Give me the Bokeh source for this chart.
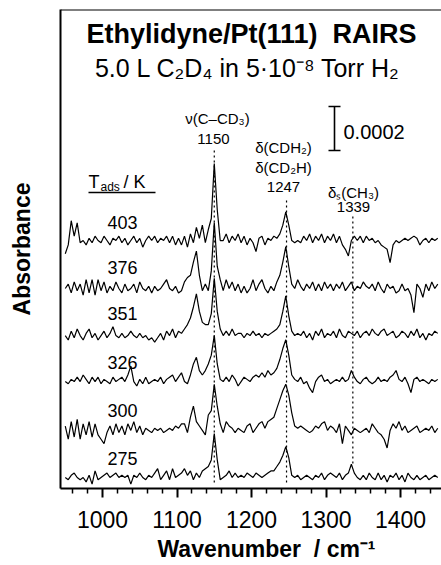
import numpy as np
from bokeh.plotting import figure
from bokeh.models import Range1d, Label, Span, FixedTicker, Title
from bokeh.embed import file_html
from bokeh.resources import INLINE

FONT = "Liberation Sans"

# ---------------- data ----------------
wn_start, wn_step = 950, 4          # wavenumber grid of the spectra (cm-1)
temperatures = ["403", "376", "351", "326", "300", "275"]
# vertical offsets of the stacked spectra (absorbance)
offsets = [0.001127, 0.000909, 0.000695, 0.000486, 0.000264, 0.000050]
# spectra, in units of 1e-5 absorbance, 950..1450 cm-1 every 4 cm-1
abs_403 = [
    -6, -2, 9, 2, 8, -1, 0, -2, 1, -1,
    2, 0, -1, 2, 0, -2, 1, 0, 2, -1,
    1, -2, 0, 2, -1, 1, -3, 0, 2, 0,
    2, -1, 1, 0, 2, -1, 2, -2, 1, -2,
    2, -3, 3, -1, 6, 1, 7, -1, 5, 10,
    35, 14, 0, 0, 3, -1, 2, 0, 3, -1,
    2, -2, 1, -1, -5, 1, 2, -2, 1, 0,
    2, 1, 3, 7, 13, 7, 0, -1, 0, -1,
    2, 0, 3, -1, 2, 0, 3, -1, 2, 0,
    3, -1, 2, -2, -4, -7, 0, 2, 0, 2,
    -1, 2, 0, 1, -1, 0, -2, -3, -4, -10,
    -2, 0, -1, 0, 1, 0, 1, 2, 1, -2,
    0, 1, -1, 1, 0, 1]
abs_376 = [
    0, 2, -2, 3, -1, 2, -3, 4, -2, 4,
    -3, 4, -1, 3, -2, 1, -1, 3, 0, -2,
    2, -1, 0, 2, -2, 3, 0, -1, 1, -2,
    1, -1, 0, 2, 4, 0, -1, 1, -2, -1,
    3, 5, 6, 12, 17, 6, -1, 2, -1, 8,
    30, 10, 4, -1, 4, 0, 3, -1, 2, -2,
    1, -2, 0, 4, -1, 2, 4, 0, -2, 1,
    -1, 3, 6, 12, 19, 10, 2, 0, 4, 1,
    -1, 2, 0, 3, -1, 2, -1, 3, 0, 2,
    -1, 2, 0, 3, -1, 1, 3, -1, 1, 0,
    3, 1, 0, 2, -1, 3, 0, -2, 2, 0,
    1, -2, -1, 2, -1, 0, -3, -11, 2, 0,
    -4, 2, -1, 3, 0, 2]
abs_351 = [
    0, -2, 2, -1, 3, 0, -2, 1, 3, -1,
    1, -2, 0, 2, -1, 1, 4, 0, -1, 1,
    -1, 0, 2, 0, -1, 1, -1, 0, -2, -1,
    -3, -1, 1, -2, 2, 0, 3, -1, 2, 1,
    3, 5, 8, 13, 19, 11, 6, 5, 5, 10,
    26, 11, 3, 0, 2, 0, 3, 0, 1, 1,
    -1, 1, 0, 2, 0, 1, -1, 1, 0, 1,
    2, 3, 5, 11, 18, 9, 2, 0, 1, 0,
    2, -1, 1, -2, 2, 0, 3, -1, 1, 0,
    2, -1, 3, 0, -1, 2, 1, 0, 2, -1,
    1, 2, 0, 3, 1, 0, 2, 3, 0, 1,
    2, -1, 0, 2, 1, -1, 2, 0, 3, -1,
    1, -2, 1, 0, 2, 1]
abs_326 = [
    0, -1, 1, 0, 2, 0, 3, 1, -1, 2,
    0, 2, -1, 1, 0, -1, 2, 0, 1, 2,
    0, 3, 7, 0, -2, 1, -1, 2, -1, 0,
    1, 0, 2, -1, 1, 2, 3, 0, 2, 4,
    0, -1, 3, 8, 11, 5, 3, 5, 8, 12,
    21, 8, 1, 0, 2, 0, 3, 1, -2, 0,
    2, 1, 0, 2, 3, 2, 4, 2, 5, 3,
    4, 6, 10, 15, 19, 12, 3, 1, 0, 2,
    -1, 0, -3, -5, 0, 2, 3, 0, 1, -1,
    0, 1, 0, 2, 0, 1, 5, 2, 0, -1,
    1, 2, 0, -1, 0, 2, 0, 1, 0, 2,
    3, 5, 1, 0, 2, -1, -5, 1, 2, 0,
    1, 0, -1, 1, 0, 1]
abs_300 = [
    2, -4, 4, -3, 5, -4, 3, -2, 4, -3,
    3, -2, -4, -6, -1, 2, -2, 3, -1, 2,
    -2, 3, 0, 4, -1, 2, -2, 1, 0, -1,
    1, 0, 1, -1, 0, 1, 0, 2, 1, 3,
    3, -1, 6, 11, 4, 2, 0, -2, 7, 9,
    21, 11, 3, -1, 4, 2, 1, -1, 1, 0,
    -1, 2, 3, -1, 1, 3, 4, 1, 4, 5,
    6, 10, 14, 18, 21, 16, 8, 2, 1, 2,
    1, 0, -1, 0, 2, 1, 3, 4, 0, 2,
    1, -1, 3, -6, 2, 0, -2, 1, 0, -1,
    0, 1, -1, 3, 1, -1, -2, -4, -8, 0,
    3, 1, 4, 0, 2, -1, 0, 1, 2, -1,
    0, 1, 0, 2, -1, 1]
abs_275 = [
    0, -1, 1, 2, 0, -1, 0, -2, 1, -3,
    3, -1, 0, 1, 2, 0, 1, 2, 0, 1,
    0, 1, -3, 1, 0, 2, 0, -1, 1, 0,
    2, 4, -1, 1, 3, -1, 4, 0, 1, 2,
    4, 1, 3, -1, 2, 0, 3, 4, 5, 8,
    20, 8, -1, 0, 1, 3, 0, 2, 0, 1,
    0, 2, 1, 0, 2, 1, 0, 1, 2, 3,
    3, 5, 7, 10, 14, 9, 1, 0, 1, -1,
    0, 1, 0, -1, 1, 0, 2, -1, 1, 2,
    1, 0, 2, -1, 1, 2, 6, 2, 0, -1,
    1, -1, 2, 0, -1, 2, -1, 1, -2, 1,
    0, 2, -1, 1, -2, 2, 0, -1, 1, -1,
    0, 1, -1, 0, 1, 0]
spectra = [abs_403, abs_376, abs_351, abs_326, abs_300, abs_275]

band_centers = [1150, 1247, 1336]
major_ticks = [1000, 1100, 1200, 1300, 1400]
minor_ticks = [960, 980, 1020, 1040, 1060, 1080, 1120, 1140, 1160, 1180,
               1220, 1240, 1260, 1280, 1320, 1340, 1360, 1380, 1420, 1440]
scale_bar_value = 0.0002

# ---------------- layout ----------------
W, H = 441, 565
L, T, B = 60, 9, 77
x0, x1 = 943.6, 1455.0
y0, y1 = 0.0, 0.002177
fw, fh = W - L, H - T - B


def dx(px):
    return x0 + (px - L) * (x1 - x0) / fw


def dy(py):
    return y1 - (py - T) * (y1 - y0) / fh


p = figure(width=W, height=H, x_range=Range1d(x0, x1), y_range=Range1d(y0, y1),
           output_backend="svg", toolbar_location=None,
           min_border_left=L, min_border_right=0, min_border_top=T, min_border_bottom=B)
p.outline_line_color = None
p.grid.visible = False
p.background_fill_color = "white"
p.border_fill_color = "white"

xa = p.xaxis[0]
xa.ticker = FixedTicker(ticks=major_ticks, minor_ticks=minor_ticks)
xa.axis_line_width = 2
xa.major_tick_out = 9
xa.major_tick_in = 0
xa.minor_tick_out = 5
xa.minor_tick_in = 0
xa.major_tick_line_width = 2
xa.minor_tick_line_width = 1.5
xa.major_label_text_font = FONT
xa.major_label_text_font_size = "23px"
xa.major_label_text_color = "black"
xa.major_label_standoff = 13

ya = p.yaxis[0]
ya.ticker = FixedTicker(ticks=[])
ya.axis_line_width = 2
ya.major_tick_out = 0
ya.major_tick_in = 0
ya.minor_tick_out = 0
ya.minor_tick_in = 0
ya.major_label_standoff = 0
ya.axis_label = "Absorbance"
ya.axis_label_text_font = FONT
ya.axis_label_text_font_size = "23px"
ya.axis_label_text_font_style = "bold"
ya.axis_label_text_color = "black"
ya.axis_label_standoff = 26

p.add_layout(Title(text="Wavenumber\u00a0 / cm⁻¹", align="left", offset=97,
                   text_font=FONT, text_font_size="23px", text_font_style="bold",
                   text_color="black", standoff=6), "below")

p.add_layout(Span(location=y1, dimension="width", line_color="black", line_width=2))

# spectra
wn = wn_start + wn_step * np.arange(len(abs_403))
for off, spec in zip(offsets, spectra):
    p.line(wn, off + np.array(spec) * 1e-5, line_color="black", line_width=1.2)

# dotted band guide lines
band_top = [dy(150), dy(200), dy(216)]
band_bottom = [dy(484), dy(484), dy(466)]
p.segment(x0=band_centers, y0=band_top, x1=band_centers, y1=band_bottom,
          line_color="black", line_width=1.2, line_dash="2 3")

# scale bar
sb_x = dx(334)
sb_y = dy(150)
p.segment(x0=[sb_x, dx(328), dx(328)], y0=[sb_y, sb_y, sb_y + scale_bar_value],
          x1=[sb_x, dx(340), dx(340)], y1=[sb_y + scale_bar_value, sb_y, sb_y + scale_bar_value],
          line_color="black", line_width=1.6)


def lab(px, py, text, size, style="normal", align="center", baseline="middle"):
    p.add_layout(Label(x=dx(px), y=dy(py), text=text, text_font=FONT,
                       text_font_size=f"{size}px", text_font_style=style,
                       text_align=align, text_baseline=baseline,
                       text_color="black"))


lab(251, 33, "Ethylidyne/Pt(111)\u00a0 RAIRS", 27, "bold")
lab(247, 67, "5.0 L C₂D₄ in 5·10⁻⁸ Torr H₂", 25)
lab(217, 118, "ν(C–CD₃)", 15)
lab(213, 138, "1150", 15)
lab(343, 131, "0.0002", 20, align="left")
lab(283, 147, "δ(CDH₂)", 15)
lab(283, 167, "δ(CD₂H)", 15)
lab(283, 186, "1247", 15)
lab(353, 192, "δₛ(CH₃)", 15)
lab(353, 206, "1339", 15)

# T_ads / K header, underlined
lab(88, 181, "T", 18, align="left")
lab(100, 186, "ads", 12, align="left")
lab(123, 181, "/ K", 18, align="left")
p.segment(x0=[dx(88)], y0=[dy(192)], x1=[dx(155)], y1=[dy(192)], line_color="black", line_width=1.3)

for t, ty in zip(temperatures, [222, 267, 313, 362, 410, 458]):
    lab(122, ty, t, 18)

open("out.html", "w").write(file_html(p, INLINE))
